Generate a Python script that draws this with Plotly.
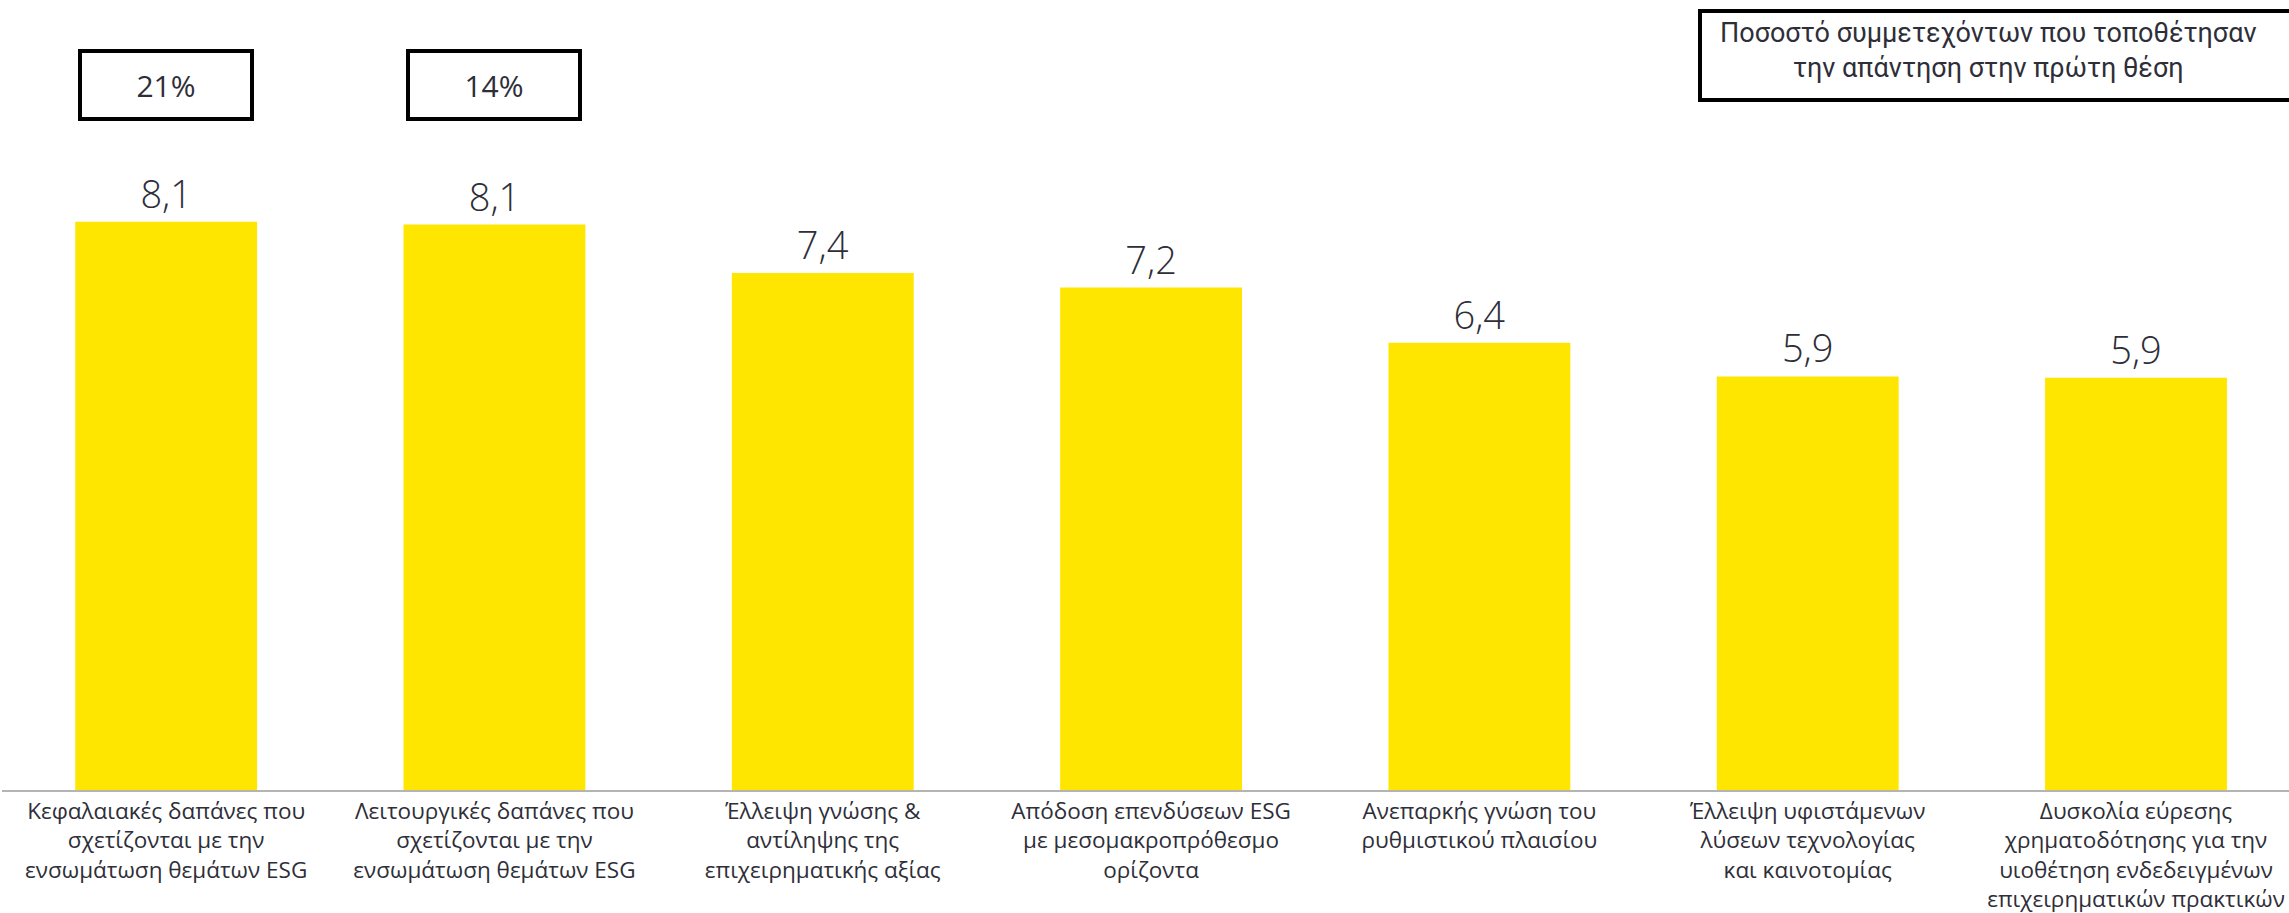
import plotly.graph_objects as go

categories = [
    "Κεφαλαιακές δαπάνες που<br>σχετίζονται με την<br>ενσωμάτωση θεμάτων ESG",
    "Λειτουργικές δαπάνες που<br>σχετίζονται με την<br>ενσωμάτωση θεμάτων ESG",
    "Έλλειψη γνώσης &<br>αντίληψης της<br>επιχειρηματικής αξίας",
    "Απόδοση επενδύσεων ESG<br>με μεσομακροπρόθεσμο<br>ορίζοντα",
    "Ανεπαρκής γνώση του<br>ρυθμιστικού πλαισίου",
    "Έλλειψη υφιστάμενων<br>λύσεων τεχνολογίας<br>και καινοτομίας",
    "Δυσκολία εύρεσης<br>χρηματοδότησης για την<br>υιοθέτηση ενδεδειγμένων<br>επιχειρηματικών πρακτικών",
]
values = [8.12, 8.08, 7.39, 7.18, 6.39, 5.91, 5.89]
first_place_share = ["21%", "14%"]
legend_text = "Ποσοστό συμμετεχόντων που τοποθέτησαν<br>την απάντηση στην πρώτη θέση"

TEXT = "#2E2E38"
FONT = "Open Sans"
W, H = 2289, 913
ML, MR, MT, MB = 2, 0, 0, 123
PW, PH = W - ML - MR, H - MT - MB
x_idx = list(range(len(categories)))


def px_x(px):
    return (px - ML) / PW


def px_y(py):
    return (H - MB - py) / PH


fig = go.Figure()
fig.add_trace(go.Bar(
    x=x_idx, y=values,
    marker=dict(color="#FFE600", line=dict(width=0)),
    width=0.554,
    texttemplate="%{y:.1f}", textposition="outside",
    textfont=dict(size=38, color=TEXT, family=FONT, weight=300),
    cliponaxis=False,
    hoverinfo="skip",
))

fig.update_layout(
    width=W, height=H,
    margin=dict(l=ML, r=MR, t=MT, b=MB),
    paper_bgcolor="white", plot_bgcolor="white",
    separators=",.",
    showlegend=False,
    font=dict(family=FONT, color=TEXT),
    xaxis=dict(
        range=[-0.5, 6.466],
        tickmode="array", tickvals=x_idx, ticktext=categories,
        tickfont=dict(size=22.5, color=TEXT, family=FONT),
        ticklabeloverflow="allow",
        showline=True, linecolor="#B4B4B4", linewidth=2,
        showgrid=False, zeroline=False, ticks="", ticklen=0,
    ),
    yaxis=dict(range=[0, 11.29], visible=False, showgrid=False),
)

# boxes with first-place share above the first bars
for i, s in enumerate(first_place_share):
    fig.add_annotation(
        x=i, xref="x", y=px_y(84.5), yref="paper", yanchor="middle",
        text=s, showarrow=False,
        font=dict(size=30, color=TEXT, family=FONT),
        bordercolor="#000000", borderwidth=4, borderpad=0,
        width=168, height=64, bgcolor="white",
    )

# note box at top right (its right edge runs off the canvas)
fig.add_shape(
    type="rect", xref="paper", yref="paper",
    x0=px_x(1700), x1=px_x(2300), y0=px_y(100), y1=px_y(11),
    line=dict(color="#000000", width=4), fillcolor="rgba(0,0,0,0)",
)
fig.add_annotation(
    x=px_x(1988), xref="paper", xanchor="center",
    y=px_y(50), yref="paper", yanchor="middle",
    text=legend_text, showarrow=False, align="center",
    font=dict(size=27, color=TEXT, family="Roboto"),
)

fig.write_html(
    "out.html",
    config={"displayModeBar": False},
    post_script="document.body.style.margin='0px';document.body.style.overflow='hidden';",
)
